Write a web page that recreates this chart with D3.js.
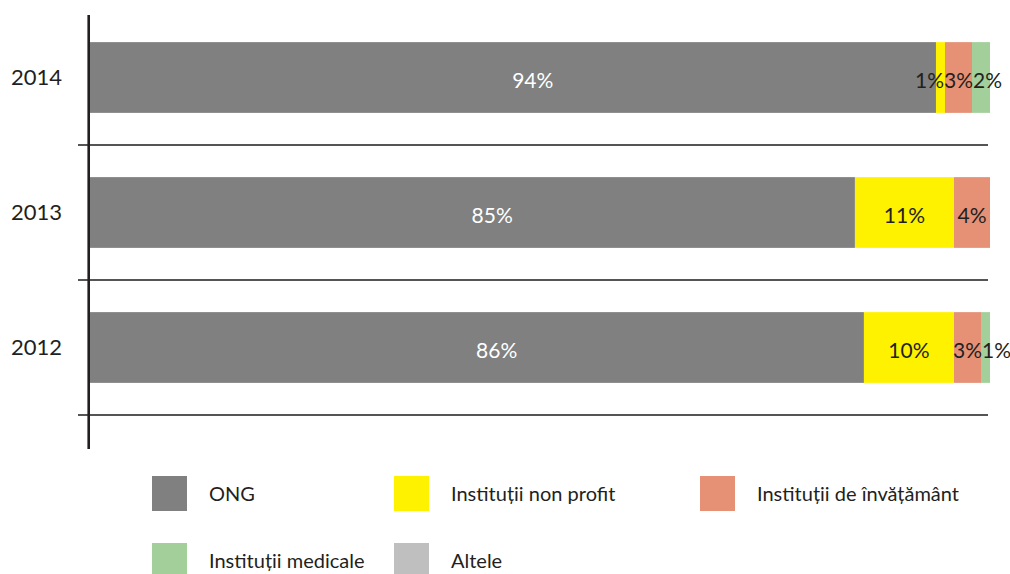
<!DOCTYPE html>
<html>
<head>
<meta charset="utf-8">
<script src="https://cdn.jsdelivr.net/npm/d3@7/dist/d3.min.js"></script>
<style>
  html, body { margin: 0; padding: 0; background: #fff; }
  svg { display: block; font-family: Lato, "Noto Sans", sans-serif; }
</style>
</head>
<body>
<svg id="chart" width="1010" height="574"></svg>
<script>
// Share of beneficiaries by type of organisation, per year (percent)
const years = ["2014", "2013", "2012"];
const seriesNames = ["ONG", "Instituții non profit", "Instituții de învățământ", "Instituții medicale", "Altele"];
const seriesColors = ["#808080", "#FFF200", "#E69076", "#A3CF9A", "#BFBFBF"];
const ong        = [94, 85, 86];
const nonProfit  = [1, 11, 10];
const invatamant = [3, 4, 3];
const medicale   = [2, 0, 1];
const altele     = [0, 0, 0];

const seriesValues = [ong, nonProfit, invatamant, medicale, altele];

const svg = d3.select("#chart");

const x = d3.scaleLinear().domain([0, 100]).range([89.5, 990]);
const y = d3.scaleBand().domain(years).range([10, 415])
  .paddingInner(0.476).paddingOuter(0.238);

const textColor = "#231F20";
const fontSize = 22;
const valueFont = 21;

// rows for the stack
const rows = years.map((yr, i) => {
  const r = { year: yr };
  seriesNames.forEach((s, j) => r[s] = seriesValues[j][i]);
  return r;
});
const stacked = d3.stack().keys(seriesNames)(rows);

// horizontal separators between bars
const step = y.step();
svg.append("g").selectAll("line").data(years).join("line")
  .attr("x1", 78).attr("x2", 988)
  .attr("y1", d => y(d) + y.bandwidth() + (step - y.bandwidth()) / 2)
  .attr("y2", d => y(d) + y.bandwidth() + (step - y.bandwidth()) / 2)
  .attr("stroke", "#555").attr("stroke-width", 2);

// bars
const layers = svg.append("g").selectAll("g").data(stacked).join("g")
  .attr("fill", (d, i) => seriesColors[i]);
layers.selectAll("rect").data(d => d).join("rect")
  .attr("x", d => x(d[0]))
  .attr("width", d => x(d[1]) - x(d[0]))
  .attr("y", d => y(d.data.year))
  .attr("height", y.bandwidth());

// vertical axis line
svg.append("line")
  .attr("x1", 88.7).attr("x2", 88.7).attr("y1", 15).attr("y2", 449)
  .attr("stroke", textColor).attr("stroke-width", 2.6);

// year labels
svg.append("g").selectAll("text").data(years).join("text")
  .attr("x", 62)
  .attr("y", d => y(d) + y.bandwidth() / 2)
  .attr("dy", "0.36em")
  .attr("text-anchor", "end")
  .attr("font-size", fontSize)
  .attr("fill", textColor)
  .text(d => d);

// value labels, nudged apart where narrow segments would collide
const labelG = svg.append("g");
years.forEach((yr, i) => {
  const items = [];
  stacked.forEach((layer, j) => {
    const seg = layer[i];
    const v = seg[1] - seg[0];
    if (v <= 0) return;
    const cx = (x(seg[0]) + x(seg[1])) / 2 + (j === 0 ? 20 : 0);
    const t = labelG.append("text")
      .attr("y", y(yr) + y.bandwidth() / 2 + 3)
      .attr("dy", "0.36em")
      .attr("text-anchor", "middle")
      .attr("font-size", valueFont)
      .attr("fill", j === 0 ? "#fff" : textColor)
      .text(v + "%");
    items.push({ t, cx, v, w: t.node().getComputedTextLength() });
  });
  for (let iter = 0; iter < 20; iter++) {
    for (let k = 0; k < items.length - 1; k++) {
      const a = items[k], b = items[k + 1];
      const overlap = (a.cx + a.w / 2) - (b.cx - b.w / 2);
      if (overlap > 0) {
        if (a.v < b.v) a.cx -= overlap; else b.cx += overlap;
      }
    }
  }
  items.forEach(it => it.t.attr("x", it.cx));
});

// legend
const legendCols = [152, 394, 700];
const legendRows = [476, 543];
const sw = 35;
const legend = svg.append("g").selectAll("g").data(seriesNames).join("g")
  .attr("transform", (d, i) => `translate(${legendCols[i % 3]},${legendRows[Math.floor(i / 3)]})`);
legend.append("rect")
  .attr("width", sw).attr("height", sw)
  .attr("fill", (d, i) => seriesColors[i]);
legend.append("text")
  .attr("x", 57).attr("y", sw / 2)
  .attr("dy", "0.36em")
  .attr("font-size", 20)
  .attr("fill", textColor)
  .text(d => d);
</script>
</body>
</html>
